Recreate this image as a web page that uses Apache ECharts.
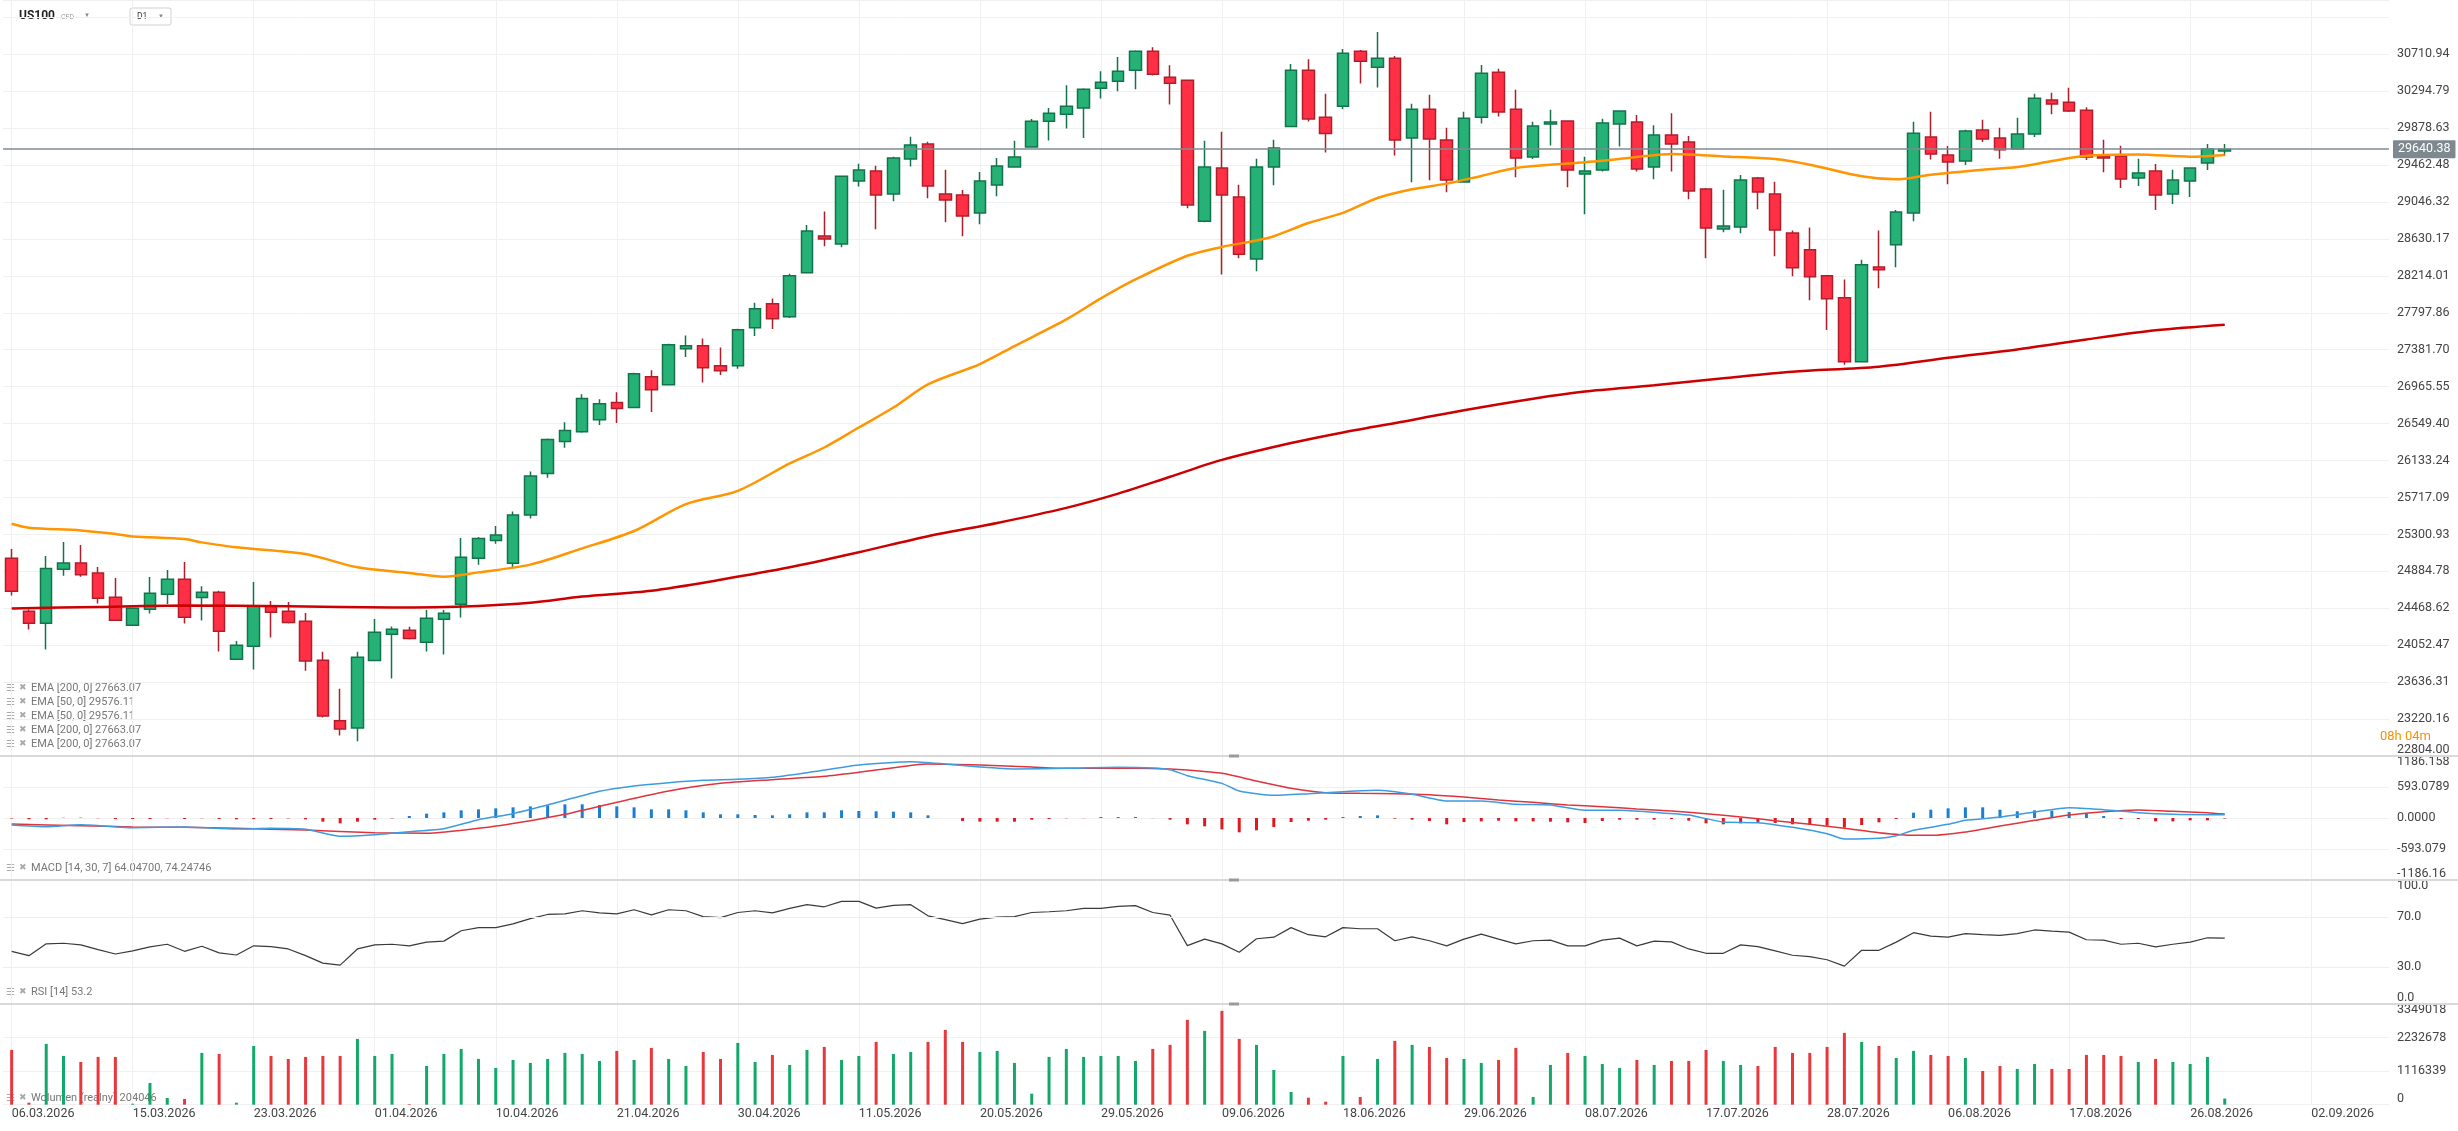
<!doctype html>
<html>
<head>
<meta charset="UTF-8">
<title>US100 D1</title>
<script src="https://cdn.jsdelivr.net/npm/echarts@6.0.0/dist/echarts.min.js"></script>
<style>
  html, body { margin: 0; padding: 0; background: #fff; }
  #main { width: 2458px; height: 1131px; }
</style>
</head>
<body>
<div id="main"></div>
<script type="text/javascript">
// ---- data ----
var tickDates = ['06.03.2026', '15.03.2026', '23.03.2026', '01.04.2026', '10.04.2026', '21.04.2026', '30.04.2026',
    '11.05.2026', '20.05.2026', '29.05.2026', '09.06.2026', '18.06.2026', '29.06.2026', '08.07.2026',
    '17.07.2026', '28.07.2026', '06.08.2026', '17.08.2026', '26.08.2026', '02.09.2026'];

var opens = [25031,24435,24300,24907,24978,24866,24592,24277,24457,24626,24795,24589,24649,23895,24041,24491,24435,24322,23884,23201,
    23119,23880,24176,24221,24086,24345,24514,25031,25233,24975,25520,25987,26347,26456,26594,26786,26730,27078,26988,27393,
    27427,27202,27202,27629,27899,27753,28248,28664,28574,29282,29395,29136,29530,29699,29136,29125,28923,29238,29440,29665,
    29957,30036,30104,30328,30407,30531,30745,30452,30419,28829,29429,29103,28405,29440,29897,30531,30002,30126,30745,30565,
    30666,29766,30092,29744,29271,30002,30509,30092,29552,29924,29958,29361,29406,29924,29946,29440,29800,29721,29193,28743,
    28765,29316,29136,28698,28507,28214,27967,27247,28315,28563,28923,29777,29575,29508,29856,29766,29642,29811,30194,30171,
    30081,29564,29564,29316,29395,29136,29282,29485,29620];
var closes = [24660,24300,24918,24978,24847,24581,24334,24468,24637,24795,24367,24649,24210,24053,24491,24424,24307,23873,23254,23108,
    23918,24199,24232,24127,24356,24412,25042,25256,25293,25520,25960,26370,26471,26831,26774,26718,27112,26932,27438,27427,
    27179,27146,27607,27843,27730,28214,28720,28630,29335,29406,29125,29541,29687,29226,29069,28889,29283,29451,29552,29957,
    30047,30126,30317,30396,30520,30745,30486,30385,29013,29440,29125,28458,29440,29654,30531,29980,29819,30722,30632,30666,
    29744,30092,29755,29294,29991,30497,30059,29541,29901,29946,29406,29395,29935,30070,29417,29800,29699,29170,28754,28776,
    29294,29159,28731,28304,28203,27955,27247,28338,28282,28934,29822,29586,29496,29845,29755,29635,29811,30216,30149,30070,
    29552,29541,29305,29372,29125,29294,29429,29642,29640.38];
var lows = [24611,24228,24004,24836,24825,24521,24326,24274,24409,24517,24296,24330,23981,23888,23779,24139,24296,23764,23239,23036,
    22969,23880,23678,24116,23981,23948,24364,24960,25196,24922,25480,25938,26276,26445,26534,26557,26725,26681,26985,27299,
    27011,27097,27168,27535,27614,27738,28245,28548,28536,29222,28739,29054,29447,29088,28818,28660,28795,29110,29438,29660,
    29740,29875,29766,30212,30295,30317,30471,30145,28975,28818,28229,28413,28267,29234,29895,29954,29605,30092,30381,30336,
    29571,29268,29290,29155,29268,29931,30010,29324,29530,29684,29211,28908,29391,29672,29391,29301,29391,29076,28413,28705,
    28694,28964,28435,28210,27940,27603,27213,27245,28075,28312,28829,29526,29245,29462,29721,29534,29640,29777,30036,30059,
    29519,29380,29204,29226,28956,29024,29102,29406,29564];
var highs = [25136,24454,25057,25215,25181,24933,24810,24476,24821,24900,24990,24716,24667,24101,24765,24551,24540,24416,23978,23561,
    23978,24349,24262,24259,24450,24450,25260,25271,25395,25560,26010,26380,26564,26880,26823,26902,27123,27149,27449,27543,
    27509,27408,27618,27910,27959,28237,28788,28938,29340,29477,29455,29556,29781,29725,29410,29181,29384,29541,29736,29980,
    30104,30362,30328,30520,30681,30756,30790,30587,30425,29736,29837,29241,29534,29747,30602,30655,30265,30771,30760,30962,
    30692,30152,30254,29882,30062,30591,30546,30310,29950,30085,29960,29556,29984,30073,30025,29912,30047,29789,29204,29185,
    29350,29328,29275,28724,28758,28215,28173,28394,28724,28956,29950,30062,29676,29860,29972,29882,29995,30265,30276,30332,
    30115,29747,29680,29534,29474,29410,29432,29699,29699];

// EMA lines, read at [candle index, value]
var ema50 = [[0,25421],[1,25376],[4,25346],[6,25305],[7,25278],[10,25248],[11,25211],[13,25155],[17,25080],[20,24930],
    [23,24866],[25,24825],[27,24873],[30,24960],[33,25143],[36,25339],[39,25642],[42,25792],[45,26100],[47,26280],
    [49,26505],[51,26730],[53,26992],[56,27220],[58,27423],[61,27723],[63,27960],[65,28173],[68,28440],[70,28540],
    [72,28612],[73,28660],[75,28810],[77,28923],[79,29091],[81,29190],[83,29253],[85,29340],[87,29429],[90,29480],
    [92,29510],[94,29552],[96,29586],[99,29560],[102,29530],[104,29466],[107,29335],[109,29301],[111,29354],[114,29410],
    [116,29440],[118,29507],[120,29567],[123,29582],[126,29556],[128,29576]];
var ema200 = [[0,24465],[5,24484],[10,24500],[16,24490],[22,24478],[27,24495],[30,24530],[33,24600],[37,24667],[41,24790],
    [45,24930],[49,25100],[53,25280],[57,25430],[61,25600],[64,25760],[67,25950],[70,26140],[74,26330],[77,26450],
    [81,26590],[84,26700],[88,26830],[91,26910],[95,26980],[99,27060],[103,27134],[108,27190],[112,27290],[116,27385],
    [120,27498],[124,27600],[128,27663]];

// MACD [14, 30, 7]
var macdLine = [[0,-134],[2,-166],[4,-128],[7,-185],[10,-172],[13,-210],[15,-198],[17,-217],[19,-351],[21,-319],[23,-261],
    [25,-204],[27,-32],[29,83],[31,249],[34,510],[36,612],[38,676],[40,721],[42,740],[44,778],[46,867],[49,1014],[52,1078],
    [54,1033],[56,976],[58,937],[61,950],[64,969],[66,957],[67,925],[68,810],[70,663],[71,517],[73,434],[75,466],[77,504],
    [79,529],[81,453],[83,325],[85,325],[87,261],[89,249],[91,147],[93,147],[95,108],[97,57],[99,-77],[101,-89],[103,-179],
    [105,-300],[106,-402],[108,-389],[109,-338],[110,-236],[112,-121],[113,-45],[115,19],[117,115],[119,198],[121,159],
    [123,102],[125,70],[127,64],[128,64.047]];
var signalLine = [[0,-115],[4,-147],[7,-172],[10,-179],[13,-198],[17,-230],[21,-281],[24,-293],[27,-198],[30,-51],[32,70],
    [35,300],[38,516],[41,663],[44,733],[47,797],[50,918],[53,1033],[56,1014],[59,976],[61,950],[65,950],[67,937],[68,918],
    [70,855],[72,708],[74,568],[76,485],[78,472],[80,466],[82,446],[84,402],[86,344],[88,300],[90,249],[92,217],[94,172],
    [96,134],[98,83],[100,19],[102,-51],[104,-121],[106,-198],[108,-281],[110,-332],[111,-332],[113,-268],[115,-153],
    [117,-45],[119,57],[121,121],[123,153],[125,128],[127,102],[128,74.247]];
var macdHist = [-10,-25,-25,5,8,-5,-20,-20,-20,-5,-20,-5,-20,-25,-20,-20,-8,-25,-70,-102,-70,-32,-8,38,83,108,147,166,185,204,
    223,242,262,262,249,223,204,166,166,147,108,70,70,57,51,70,108,108,147,134,128,121,108,51,0,-57,-70,-70,-70,-32,
    -19,-5,-3,19,19,19,-3,-32,-121,-159,-217,-274,-236,-172,-77,-51,-32,19,38,51,-13,-32,-57,-121,-77,-64,-51,-64,-64,-70,
    -83,-96,-57,-32,-32,-32,-19,-51,-102,-121,-102,-96,-96,-121,-134,-147,-185,-134,-83,-19,102,159,185,204,204,159,128,147,140,115,
    89,38,-19,-19,-64,-64,-45,-45,-10];

// RSI [14]
var rsi = [42.5,39.0,48.5,49.0,47.7,43.9,40.3,42.8,46.1,48.2,42.5,46.6,41.2,39.5,46.9,46.3,44.4,39.0,33.0,31.4,
    44.4,47.7,48.2,46.9,49.9,50.7,59.1,61.6,61.6,64.6,68.9,72.2,72.7,75.2,73.5,72.7,76.0,71.9,76.0,75.2,
    70.5,69.7,73.8,75.2,73.5,77.1,80.1,78.4,82.8,82.8,77.3,79.5,80.1,71.1,68.1,64.8,68.4,70.0,70.5,73.8,
    74.4,75.2,77.1,77.1,78.7,79.3,73.8,71.6,47.1,52.3,48.5,41.7,52.6,53.9,61.6,55.9,54.2,61.6,60.7,60.7,
    51.0,54.2,51.0,46.9,52.3,56.4,52.3,48.5,51.0,51.5,46.9,46.9,51.5,53.1,46.9,50.7,50.1,44.4,40.9,40.9,
    47.7,46.3,42.8,39.3,38.2,35.7,30.5,43.3,43.3,49.9,57.5,54.8,53.9,56.7,55.9,55.3,56.7,59.7,58.8,58.0,
    51.8,51.5,48.2,49.0,46.1,48.2,49.9,53.4,53.2];

// Volume
var volume = [1822000,67000,2022000,1622000,1422000,1589000,1589000,33000,722000,222000,189000,1722000,1689000,67000,1955000,
    1622000,1522000,1589000,1622000,1622000,2189000,1622000,1689000,20000,1289000,1689000,1855000,1522000,1222000,1489000,
    1389000,1522000,1722000,1689000,1455000,1789000,1489000,1889000,1522000,1289000,1755000,1522000,2055000,1422000,1655000,
    1322000,1822000,1922000,1489000,1622000,2089000,1689000,1755000,2089000,2489000,2089000,1755000,1789000,1389000,367000,
    1589000,1855000,1589000,1622000,1622000,1455000,1855000,1989000,2822000,2455000,3122000,2189000,1989000,1155000,422000,
    233000,100000,1622000,255000,1522000,2122000,1989000,1922000,1555000,1522000,1389000,1489000,1889000,255000,1322000,
    1722000,1622000,1355000,1222000,1489000,1322000,1455000,1455000,1822000,1455000,1322000,1289000,1922000,1722000,1722000,
    1922000,2389000,2089000,1955000,1555000,1789000,1655000,1622000,1555000,1122000,1289000,1189000,1355000,1189000,1189000,
    1655000,1655000,1622000,1422000,1522000,1422000,1355000,1589000,204046];

// axis tick labels
var priceTicks = ['22804.00','23220.16','23636.31','24052.47','24468.62','24884.78','25300.93','25717.09','26133.24','26549.40',
    '26965.55','27381.70','27797.86','28214.01','28630.17','29046.32','29462.48','29878.63','30294.79','30710.94'];
var macdTicks = ['-1186.16', '-593.079', '0.0000', '593.0789', '1186.158'];
var rsiTicks = {0: '0.0', 3: '30.0', 7: '70.0', 10: '100.0'};
var volTicks = ['0', '1116339', '2232678', '3349018'];
var lastPrice = 29640.38;

var emaLegend = ['EMA [200, 0] 27663.07', 'EMA [50, 0] 29576.11', 'EMA [50, 0] 29576.11', 'EMA [200, 0] 27663.07', 'EMA [200, 0] 27663.07'];

// ---- build ----
var nCat = 138;
var categories = [];
for (var i = 0; i < nCat; i++) {
    categories.push(i % 7 === 0 && tickDates[i / 7] ? tickDates[i / 7] : '');
}
var candles = [];
var volData = [];
for (var i = 0; i < opens.length; i++) {
    candles.push([opens[i], closes[i], lows[i], highs[i]]);
    volData.push({ value: volume[i], itemStyle: { color: closes[i] >= opens[i] ? '#12a86a' : '#e8383d' } });
}

var FONT = 'Roboto, "Noto Sans", sans-serif';
var every7 = function (idx) { return idx % 7 === 0; };
var gridL = 3, gridR = 69;

function stepLabel(labels, min, step, edgeTop) {
    return function (v) {
        var k = Math.round((v - min) / step);
        if (k < 0 || k >= labels.length || Math.abs(v - (min + k * step)) > step * 0.01) return '';
        if (k === 0) return '{lo|' + labels[k] + '}';
        if (edgeTop && k === labels.length - 1) return '{hi|' + labels[k] + '}';
        return labels[k];
    };
}
var edgeRich = { lo: { padding: [0, 0, 12, 0] }, hi: { padding: [12, 0, 0, 0] } };

function xAx(gi, showLabels) {
    return {
        type: 'category', gridIndex: gi, data: categories, boundaryGap: true,
        axisLine: { show: false }, axisTick: { show: false },
        axisLabel: {
            show: showLabels, interval: every7, align: 'left', margin: 3,
            color: '#444', fontSize: 12.5, fontFamily: FONT
        },
        splitLine: { show: true, interval: every7, alignWithLabel: true, lineStyle: { color: '#f0f0f0', width: 1 } }
    };
}
function yAx(gi, min, max, interval, formatter, showSplit) {
    return {
        type: 'value', gridIndex: gi, position: 'right', min: min, max: max, interval: interval, scale: true,
        axisLine: { show: false }, axisTick: { show: false },
        axisLabel: { margin: 8, color: '#444', fontSize: 12.5, fontFamily: FONT, formatter: formatter, rich: edgeRich },
        splitLine: { show: showSplit, lineStyle: { color: '#f0f0f0', width: 1 } }
    };
}

function txt(x, y, text, fill, font) {
    return { type: 'text', z: 0, silent: true, style: { x: x, y: y, text: text, fill: fill, font: font, verticalAlign: 'middle', textVerticalAlign: 'middle' } };
}
var graphics = [
    txt(19, 16, 'US100', '#222', 'bold 12px ' + FONT),
    txt(61, 17, 'CFD', '#999', '7px ' + FONT),
    txt(84, 15, '▼', '#888', '6px ' + FONT),
    { type: 'rect', z: 0, shape: { x: 130, y: 8, width: 41, height: 17, r: 2 }, style: { fill: '#fff', stroke: '#d0d0d0', lineWidth: 1 } },
    txt(137, 17, 'D1', '#333', '8.5px ' + FONT),
    txt(158, 16, '▼', '#888', '6px ' + FONT),
    txt(2380, 737, '08h 04m', '#f39200', '13px ' + FONT),
    txt(31, 868, 'MACD [14, 30, 7] 64.04700, 74.24746', '#777', '11px ' + FONT),
    txt(31, 992, 'RSI [14] 53.2', '#777', '11px ' + FONT),
    txt(31, 1098, 'Wolumen (realny) 204046', '#777', '11px ' + FONT)
];
[868, 992, 1098].forEach(function (y) {
    graphics.push(txt(6, y, '☰', '#aaa', '10px "DejaVu Sans"'));
    graphics.push(txt(19, y, '✖', '#aaa', '9px "DejaVu Sans"'));
});
for (var j = 0; j < emaLegend.length; j++) {
    var ly = 688 + j * 14;
    graphics.push(txt(6, ly, '☰', '#aaa', '10px "DejaVu Sans"'));
    graphics.push(txt(19, ly, '✖', '#aaa', '9px "DejaVu Sans"'));
    graphics.push(txt(31, ly, emaLegend[j], '#777', '11px ' + FONT));
}
// panel separators with small handles
[756, 880, 1004].forEach(function (y) {
    graphics.push({ type: 'rect', z: 10, silent: true, shape: { x: 0, y: y - 1, width: 2458, height: 2 }, style: { fill: '#d9d9d9' } });
    graphics.push({ type: 'rect', z: 10, silent: true, shape: { x: 1229, y: y - 1.5, width: 10, height: 3 }, style: { fill: '#9a9a9a' } });
});

var myChart = echarts.init(document.getElementById('main'), null, { renderer: 'canvas' });
var option = {
    backgroundColor: '#fff',
    animation: false,
    grid: [
        { left: gridL, right: gridR, top: 0, height: 756, outerBoundsMode: 'none' },
        { left: gridL, right: gridR, top: 756, height: 124, outerBoundsMode: 'none' },
        { left: gridL, right: gridR, top: 880, height: 124, outerBoundsMode: 'none' },
        { left: gridL, right: gridR, top: 1004, height: 100.7, outerBoundsMode: 'none' }
    ],
    xAxis: [xAx(0, false), xAx(1, false), xAx(2, false), xAx(3, true)],
    yAxis: [
        yAx(0, 22804, 31322, 416.155, stepLabel(priceTicks, 22804, 416.155, false), true),
        yAx(1, -1186.158, 1186.158, 593.079, stepLabel(macdTicks, -1186.158, 593.079, true), true),
        yAx(2, 0, 100, 10, function (v) {
            var k = Math.round(v / 10), t = rsiTicks[k];
            if (t === undefined) return '';
            if (k === 0) return '{lo|' + t + '}';
            if (k === 10) return '{hi|' + t + '}';
            return t;
        }, false),
        yAx(3, 0, 3349018, 1116339.3333, stepLabel(volTicks, 0, 1116339.3333, true), true)
    ],
    graphic: graphics,
    series: [
        {
            name: 'US100', type: 'candlestick', xAxisIndex: 0, yAxisIndex: 0, data: candles, barWidth: 12,
            itemStyle: { color: '#26b276', color0: '#ff3046', borderColor: '#13734b', borderColor0: '#b01e2a', borderWidth: 1.5 },
            markLine: {
                silent: true, symbol: ['none', 'none'], animation: false,
                lineStyle: { color: '#7f8b90', width: 1.5, type: 'solid' },
                label: {
                    position: 'end', distance: 4, formatter: lastPrice.toFixed(2), color: '#fff', backgroundColor: '#7d898e',
                    padding: [3, 5, 2, 5], fontSize: 12.5, fontFamily: FONT, borderRadius: 1
                },
                data: [{ yAxis: lastPrice }]
            }
        },
        {
            name: 'EMA 200', type: 'line', xAxisIndex: 0, yAxisIndex: 0, data: ema200, smooth: 0.3,
            showSymbol: false, lineStyle: { color: '#cc0000', width: 2.5 }
        },
        {
            name: 'EMA 50', type: 'line', xAxisIndex: 0, yAxisIndex: 0, data: ema50, smooth: 0.3,
            showSymbol: false, lineStyle: { color: '#ff9500', width: 2.5 }
        },
        {
            name: 'MACD hist', type: 'bar', xAxisIndex: 1, yAxisIndex: 1, data: macdHist, barWidth: 3,
            itemStyle: { color: function (p) { return p.value >= 0 ? '#1a7fd1' : '#e0181f'; } }
        },
        {
            name: 'Signal', type: 'line', xAxisIndex: 1, yAxisIndex: 1, data: signalLine, smooth: 0.2,
            showSymbol: false, lineStyle: { color: '#e0343c', width: 1.5 }
        },
        {
            name: 'MACD', type: 'line', xAxisIndex: 1, yAxisIndex: 1, data: macdLine, smooth: 0.2,
            showSymbol: false, lineStyle: { color: '#3d9be0', width: 1.5 }
        },
        {
            name: 'RSI', type: 'line', xAxisIndex: 2, yAxisIndex: 2, data: rsi,
            showSymbol: false, lineStyle: { color: '#3a3a3a', width: 1.2 },
            markLine: {
                silent: true, symbol: ['none', 'none'], label: { show: false },
                lineStyle: { color: '#eeeeee', width: 1, type: 'solid' },
                data: [{ yAxis: 30 }, { yAxis: 70 }]
            }
        },
        {
            name: 'Volume', type: 'bar', xAxisIndex: 3, yAxisIndex: 3, data: volData, barWidth: 3
        }
    ]
};
myChart.setOption(option);
</script>
</body>
</html>
